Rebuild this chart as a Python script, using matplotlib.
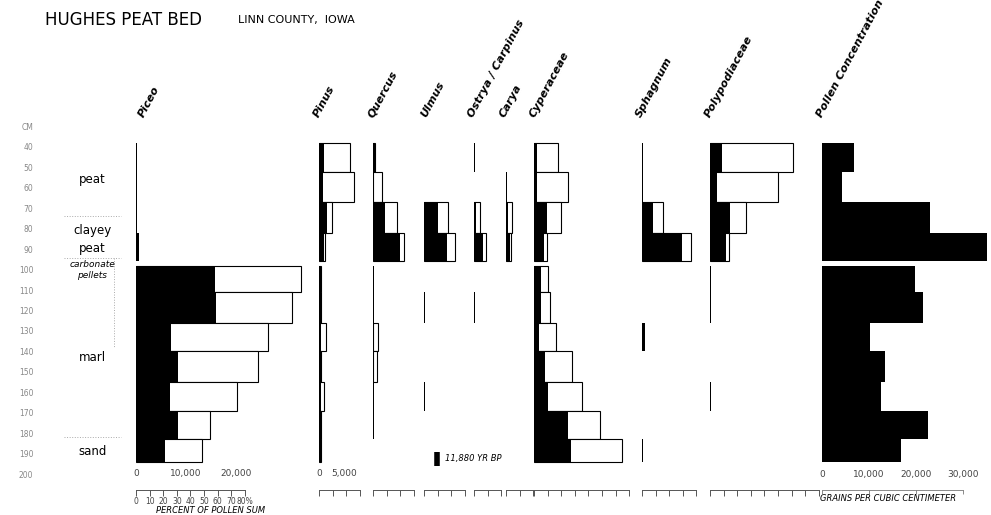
import matplotlib
matplotlib.use("Agg")
import matplotlib.pyplot as plt

# sample intervals (cm below surface): 4 peat samples, 7 marl samples
depth_top = [38, 52, 67, 82, 98, 111, 126, 140, 155, 169, 183]
depth_bot = [52, 67, 82, 96, 111, 126, 140, 155, 169, 183, 194]

# percent of pollen sum (solid bars) and grains/cc (open bars)
piceo_pct = [0.8, 0.8, 1.1, 2.2, 58.1, 58.8, 25.7, 30.7, 25.0, 30.9, 21.3]
piceo_conc = [0, 0, 0, 0, 33000, 31200, 26400, 24300, 20200, 14800, 13200]
pinus_pct = [3.7, 2.9, 5.9, 3.7, 1.5, 1.5, 1.5, 1.5, 1.5, 1.5, 1.8]
pinus_conc = [6200, 7000, 2600, 1200, 400, 400, 1400, 400, 1000, 400, 400]
quercus_pct = [1.5, 0.7, 8.8, 19.9, 1.1, 1.1, 1.1, 1.1, 1.1, 1.1, 0]
quercus_conc = [400, 1800, 4800, 6200, 0, 0, 1000, 800, 0, 0, 0]
ulmus_pct = [0, 0, 10.3, 16.9, 0, 0.7, 0, 0, 0.7, 0, 0]
ulmus_conc = [0, 0, 4800, 6200, 0, 0, 0, 0, 0, 0, 0]
ostrya_pct = [0.7, 0, 1.5, 6.6, 0, 0.7, 0, 0, 0, 0, 0]
ostrya_conc = [0, 0, 1200, 2400, 0, 0, 0, 0, 0, 0, 0]
carya_pct = [0, 0.7, 1.5, 2.9, 0, 0, 0, 0, 0, 0, 0]
carya_conc = [0, 0, 1200, 1000, 0, 0, 0, 0, 0, 0, 0]
cyper_pct = [2.2, 2.2, 9.6, 7.4, 5.1, 5.1, 3.7, 8.1, 10.3, 25.0, 27.2]
cyper_conc = [4800, 6800, 5400, 2600, 2800, 3200, 4400, 7600, 9600, 13200, 17600]
sphag_pct = [0.7, 0.7, 8.1, 29.4, 0, 0, 2.2, 0, 0, 0, 0.7]
sphag_conc = [0, 0, 4200, 9800, 0, 0, 0, 0, 0, 0, 0]
polypod_pct = [8.8, 5.1, 14.7, 11.8, 0.7, 0.7, 0, 0, 0.7, 0, 0]
polypod_conc = [16600, 13600, 7200, 3800, 0, 0, 0, 0, 0, 0, 0]
total_conc = [6800, 4300, 23000, 35100, 19800, 21500, 10200, 13400, 12600, 22500, 16800]

depth_ticks = list(range(40, 201, 10))
litho_labels = [("peat", 56), ("clayey", 81), ("peat", 89.5), ("marl", 143), ("sand", 189)]
litho_bounds = [74, 94.5, 182]
date_depth = 192.5
date_label = "11,880 YR BP"

W, H = 991, 515
fig = plt.figure(figsize=(W / 100, H / 100), dpi=100)


def box(x0, y_top, w, y_bot):
    return [x0 / W, 1 - y_bot / H, w / W, (y_bot - y_top) / H]


def px_to_depth(y):
    # 40 cm sits at y=147 px, 2.044 px per cm
    return 40 + (y - 147) / 2.044


centres = [(a + b) / 2 for a, b in zip(depth_top, depth_bot)]
heights = [b - a for a, b in zip(depth_top, depth_bot)]

# name, left px, width px, pct, conc, conc tick labels, label dx
taxa = [
    ("Piceo", 136, 174, piceo_pct, piceo_conc, [0, 10000, 20000], 10),
    ("Pinus", 319, 53, pinus_pct, pinus_conc, [0, 5000], 2),
    ("Quercus", 373, 50, quercus_pct, quercus_conc, [], 2),
    ("Ulmus", 424, 50, ulmus_pct, ulmus_conc, [], 4),
    ("Ostrya / Carpinus", 474, 30, ostrya_pct, ostrya_conc, [], 1),
    ("Carya", 506, 28, carya_pct, carya_conc, [], 1),
    ("Cyperaceae", 534, 105, cyper_pct, cyper_conc, [], 3),
    ("Sphagnum", 642, 66, sphag_pct, sphag_conc, [], 1),
    ("Polypodiaceae", 710, 110, polypod_pct, polypod_conc, [], 2),
]

label_kw = dict(xycoords="axes fraction", textcoords="offset points",
                rotation=62, rotation_mode="anchor", ha="left", va="bottom",
                fontsize=8, style="italic", fontweight="bold")

for name, x0, w, pct, conc, cticks, dx in taxa:
    ax_c = fig.add_axes(box(x0, 139, w, 466))
    ax_c.patch.set_visible(False)
    ax_c.set_ylim(px_to_depth(466), px_to_depth(139))
    ax_c.set_xlim(0, w / 0.005)  # 5 px per 1000 grains
    rows = [i for i, v in enumerate(conc) if v > 0]
    ax_c.barh([centres[i] for i in rows], [conc[i] for i in rows],
              height=[heights[i] for i in rows], left=0,
              facecolor="white", edgecolor="black", linewidth=0.8)
    for s in ax_c.spines.values():
        s.set_visible(False)
    ax_c.set_yticks([])
    ax_c.set_xticks(cticks)
    ax_c.set_xticklabels([f"{t:,}" for t in cticks])
    ax_c.tick_params(axis="x", length=0, pad=2, labelsize=6.5, labelcolor="#444")

    ax_p = ax_c.twiny()
    ax_p.patch.set_visible(False)
    ax_p.set_xlim(0, w / 1.36)  # 1.36 px per percent
    rows = [i for i, v in enumerate(pct) if v > 0]
    ax_p.barh([centres[i] for i in rows], [pct[i] for i in rows],
              height=[heights[i] for i in rows], left=0,
              color="black", linewidth=0)
    ax_p.xaxis.set_ticks_position("bottom")
    for side, s in ax_p.spines.items():
        s.set_visible(side == "bottom")
    top = 80 if name == "Piceo" else int(w / 1.36 // 10) * 10
    ax_p.spines["bottom"].set_position(("outward", 17))
    ax_p.spines["bottom"].set_bounds(0, top)
    ax_p.spines["bottom"].set_linewidth(0.7)
    ax_p.spines["bottom"].set_color("#555")
    ticks = list(range(0, top + 1, 10))
    ax_p.set_xticks(ticks)
    if name == "Piceo":
        ax_p.set_xticklabels([str(t) for t in ticks[:-1]] + [f"{ticks[-1]}%"])
        ax_p.text(0.43, -0.135, "PERCENT OF POLLEN SUM", transform=ax_p.transAxes,
                  ha="center", va="center", fontsize=6, style="italic")
    else:
        ax_p.set_xticklabels([])
    ax_p.tick_params(axis="x", direction="out", length=4, width=0.7, color="#555",
                     pad=1.5, labelsize=5.5, labelcolor="#444")
    ax_p.annotate(name, xy=(0, 1), xytext=(dx * 0.72, 20 * 0.72), **label_kw)

    if name == "Ulmus":
        ax_p.plot([9.6], [date_depth], marker="|", ms=10, mew=4, color="black",
                  clip_on=False)
        ax_p.annotate(date_label, xy=(9.6, date_depth), xytext=(6, 0),
                      textcoords="offset points", va="center", fontsize=6,
                      style="italic")

# total pollen concentration
ax_t = fig.add_axes(box(822, 139, 170, 466))
ax_t.patch.set_visible(False)
ax_t.set_ylim(px_to_depth(466), px_to_depth(139))
ax_t.set_xlim(0, 170 / 0.0047)
ax_t.barh(centres, total_conc, height=heights, left=0, color="black", linewidth=0)
for s in ax_t.spines.values():
    s.set_visible(False)
ax_t.set_yticks([])
conc_ticks = [0, 10000, 20000, 30000]
ax_t.set_xticks(conc_ticks)
ax_t.set_xticklabels([f"{t:,}" for t in conc_ticks])
ax_t.tick_params(axis="x", length=0, pad=3, labelsize=6.5, labelcolor="#444")
ax_tb = ax_t.twiny()
ax_tb.patch.set_visible(False)
ax_tb.set_xlim(ax_t.get_xlim())
ax_tb.xaxis.set_ticks_position("bottom")
for side, s in ax_tb.spines.items():
    s.set_visible(side == "bottom")
ax_tb.spines["bottom"].set_position(("outward", 17))
ax_tb.spines["bottom"].set_bounds(0, 30000)
ax_tb.spines["bottom"].set_linewidth(0.6)
ax_tb.spines["bottom"].set_color("#777")
ax_tb.set_xticks(conc_ticks)
ax_tb.set_xticklabels([])
ax_tb.tick_params(axis="x", length=3, width=0.6, color="#777")
ax_t.text(0.39, -0.1, "GRAINS PER CUBIC CENTIMETER", transform=ax_t.transAxes,
          ha="center", va="center", fontsize=6, style="italic")
ax_t.annotate("Pollen Concentration", xy=(0, 1), xytext=(2 * 0.72, 20 * 0.72),
              **label_kw)

# depth scale and lithology column
ax_s = fig.add_axes(box(36, 120, 94, 480))
ax_s.patch.set_visible(False)
ax_s.set_ylim(px_to_depth(480), px_to_depth(120))
ax_s.set_xlim(0, 1)
for s in ax_s.spines.values():
    s.set_visible(False)
ax_s.set_xticks([])
ax_s.set_yticks(depth_ticks)
ax_s.set_yticklabels([str(d) for d in depth_ticks])
ax_s.tick_params(axis="y", length=0, pad=2, labelsize=5.5, labelcolor="#888")
ax_s.text(-0.09, px_to_depth(128), "CM", fontsize=5.5, color="#888",
          ha="center", va="center")
for text, d in litho_labels:
    ax_s.text(0.6, d, text, ha="center", va="center", fontsize=8.5)
ax_s.text(0.6, 97.5, "carbonate", ha="center", va="center", fontsize=6.5, style="italic")
ax_s.text(0.6, 103, "pellets", ha="center", va="center", fontsize=6.5, style="italic")
for d in litho_bounds:
    ax_s.plot([0.3, 0.9], [d, d], ls=":", lw=0.7, color="#aaa")
ax_s.plot([0.83, 0.83], [94.5, 138], ls=":", lw=0.7, color="#aaa")

fig.text(45 / W, 1 - 20 / H, "HUGHES PEAT BED", fontsize=12, va="center")
fig.text(238 / W, 1 - 20 / H, "LINN COUNTY,  IOWA", fontsize=8, va="center")

fig.savefig("out.png", dpi=100, facecolor="white")
